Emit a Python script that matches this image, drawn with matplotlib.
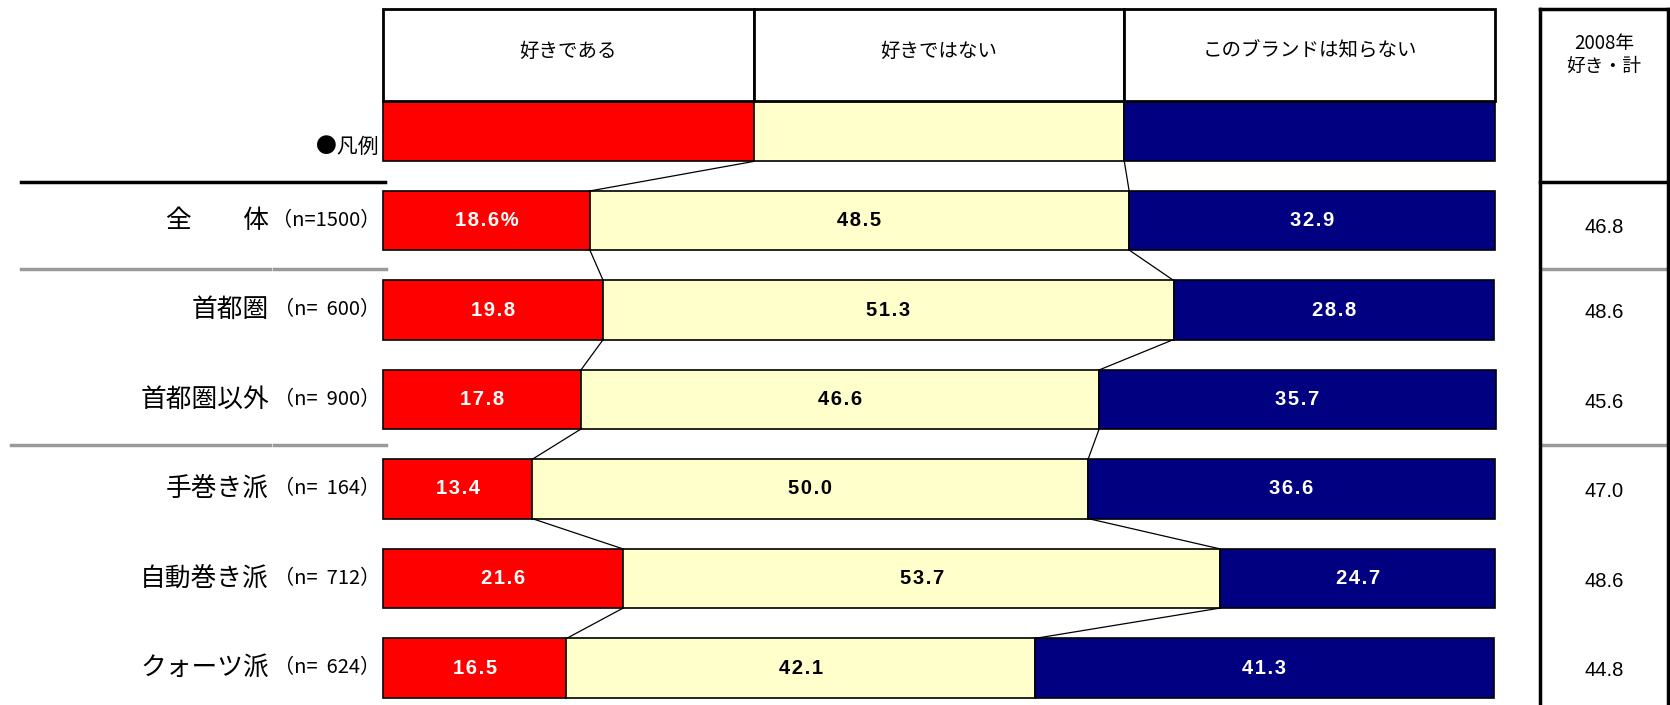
import matplotlib.pyplot as plt
from matplotlib.patches import Rectangle

plt.rcParams['font.family'] = ['Noto Sans CJK JP', 'DejaVu Sans']

# data
groups = ['全　　体', '首都圏', '首都圏以外', '手巻き派', '自動巻き派', 'クォーツ派']
n_labels = ['（n=1500）', '（n=  600）', '（n=  900）', '（n=  164）', '（n=  712）', '（n=  624）']
like = [18.6, 19.8, 17.8, 13.4, 21.6, 16.5]
dislike = [48.5, 51.3, 46.6, 50.0, 53.7, 42.1]
unknown = [32.9, 28.8, 35.7, 36.6, 24.7, 41.3]
like_2008 = ['46.8', '48.6', '45.6', '47.0', '48.6', '44.8']
series = ['好きである', '好きではない', 'このブランドは知らない']
colors = ['#ff0000', '#ffffcc', '#000080']
text_colors = ['white', 'black', 'white']

W, H = 1670, 705
X0, PX_PER = 383, 11.12       # bar origin and px per percent
Y0, PITCH = 220.5, 89.5       # first row centre and row pitch (px)


def px2x(px):
    return (px - X0) / PX_PER


def px2y(py):
    return (py - Y0) / PITCH


fig = plt.figure(figsize=(W / 100, H / 100), dpi=100)
ax = fig.add_axes([0, 0, 1, 1])
ax.set_xlim(px2x(0), px2x(W))
ax.set_ylim(px2y(H), px2y(0))
ax.axis('off')

h = 0.66
values = [like, dislike, unknown]

# legend bar + header boxes
seg = 100 / len(series)
for j, name in enumerate(series):
    ax.barh(-1, seg, left=j * seg, height=0.68, color=colors[j],
            edgecolor='black', linewidth=1.2)
    top = px2y(9)
    ax.add_patch(Rectangle((j * seg, top), seg, -1 - 0.34 - top,
                           facecolor='white', edgecolor='black', linewidth=2))
    ax.text(j * seg + seg / 2, px2y(51), name, ha='center', va='center', fontsize=14)
ax.text(px2x(379), px2y(147), '●凡例', ha='right', va='center', fontsize=15)

# stacked bars
for i in range(len(groups)):
    left = 0
    for j in range(3):
        v = values[j][i]
        ax.barh(i, v, left=left, height=h, color=colors[j],
                edgecolor='black', linewidth=1.2)
        lab = f'{v:.1f}%' if (i == 0 and j == 0) else f'{v:.1f}'
        ax.text(left + v / 2, i, '\u200a'.join(lab), ha='center', va='center',
                fontsize=14.5, fontweight='bold', color=text_colors[j],
                family=['Liberation Sans', 'DejaVu Sans'])
        left += v
    ax.text(px2x(269), i, groups[i], ha='right', va='center', fontsize=18.5)
    ax.text(px2x(380), i, n_labels[i], ha='right', va='center', fontsize=14.5)
    ax.text(px2x(1604), i + (0.08 if i == 0 else 0.03), like_2008[i], ha='center',
            va='center', fontsize=14.5, family=['Liberation Sans'])

# connector lines
b1 = like
b2 = [a + b for a, b in zip(like, dislike)]
ax.plot([seg, b1[0]], [-1 + 0.34, -h / 2], color='black', lw=0.9)
ax.plot([2 * seg, b2[0]], [-1 + 0.34, -h / 2], color='black', lw=0.9)
for i in range(len(groups) - 1):
    ax.plot([b1[i], b1[i + 1]], [i + h / 2, i + 1 - h / 2], color='black', lw=0.9)
    ax.plot([b2[i], b2[i + 1]], [i + h / 2, i + 1 - h / 2], color='black', lw=0.9)

# table lines on the left
ax.plot([px2x(21), px2x(385)], [px2y(182)] * 2, color='black', lw=2.5)
for yy, xs in [(269, 21), (445, 11)]:
    ax.plot([px2x(xs), px2x(270)], [px2y(yy)] * 2, color='#9a9a9a', lw=2.5)
    ax.plot([px2x(274), px2x(386)], [px2y(yy)] * 2, color='#9a9a9a', lw=2.5)
    ax.plot([px2x(1541), px2x(1667)], [px2y(yy)] * 2, color='#9a9a9a', lw=2.5)

# right column (2008)
for xx in [1540, 1668]:
    ax.plot([px2x(xx)] * 2, [px2y(9), px2y(H)], color='black', lw=2.5)
ax.plot([px2x(1540), px2x(1668)], [px2y(9)] * 2, color='black', lw=2.5)
ax.plot([px2x(1540), px2x(1668)], [px2y(182)] * 2, color='black', lw=2.5)
ax.text(px2x(1604), px2y(55), '2008年\n好き・計', ha='center', va='center',
        fontsize=13.5, linespacing=1.1)

fig.savefig('out.png', dpi=100)
